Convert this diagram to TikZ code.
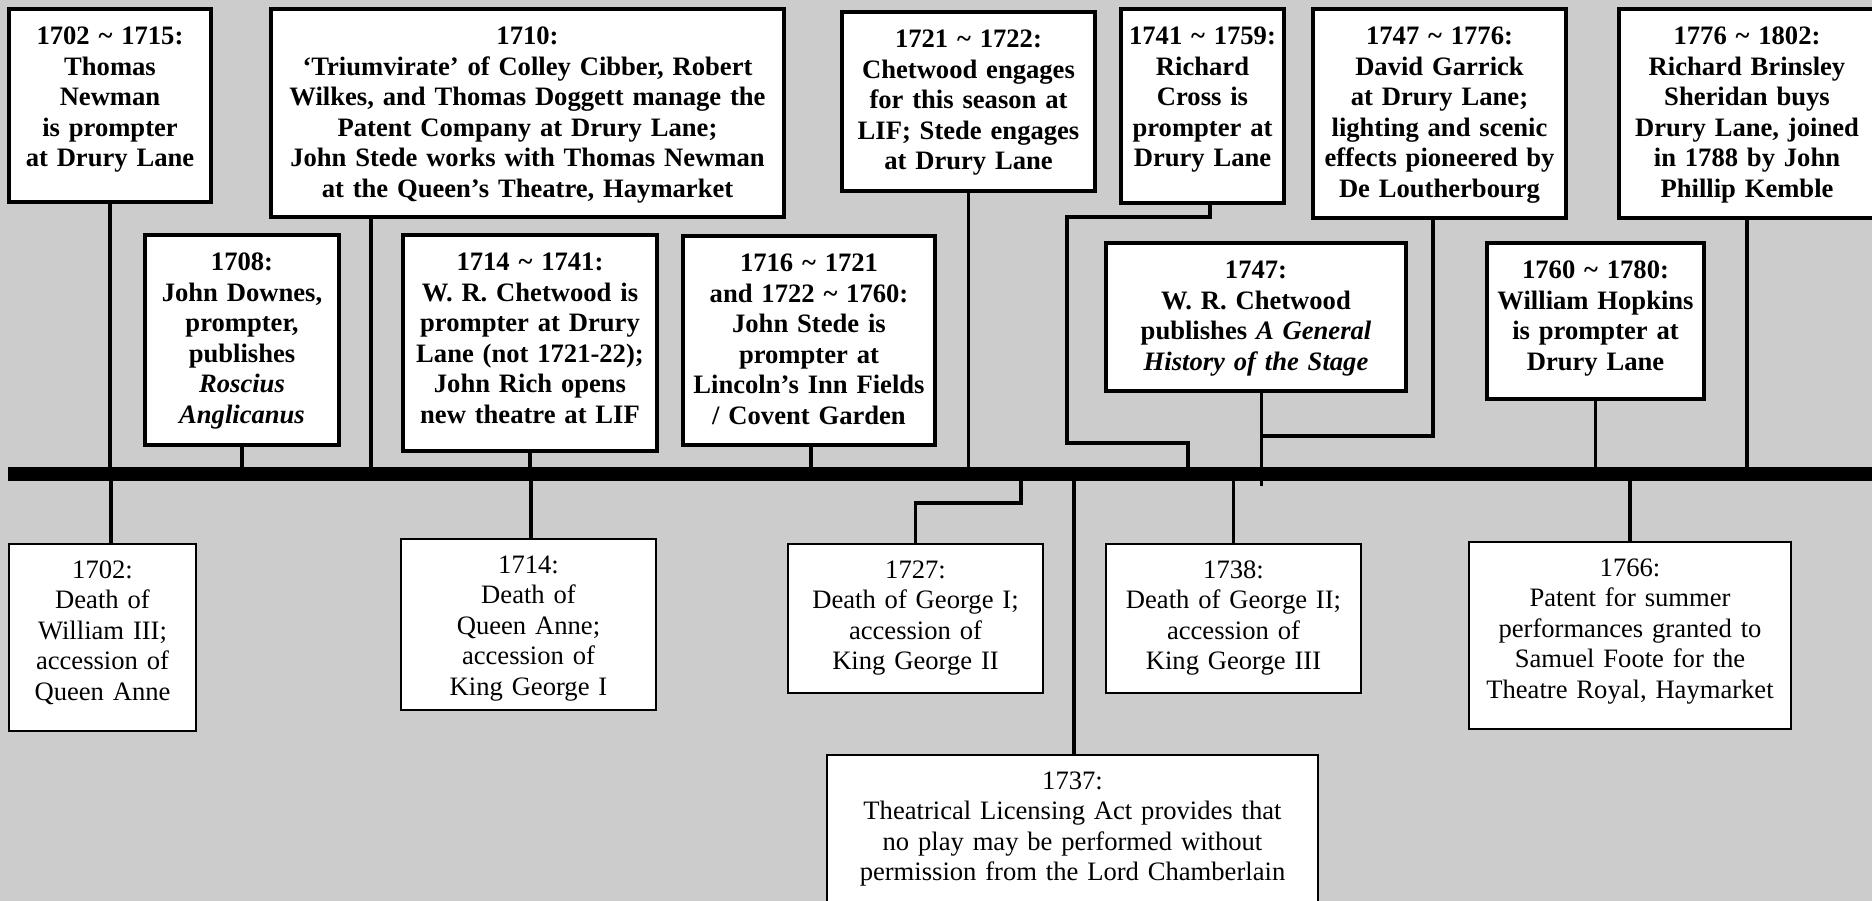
\documentclass[tikz,border=0pt]{standalone}
\usepackage{fontspec}
\setmainfont{Liberation Serif}

\definecolor{bggray}{gray}{0.8}
\tikzset{
  event/.style={draw, fill=white, anchor=north, align=center, inner xsep=8pt, inner ysep=14pt},
  topbox/.style={event, line width=4pt, text height=22pt,
    font=\bfseries\fontsize{26.6}{30.5}\selectfont},
  lowbox/.style={event, line width=2pt, text height=20pt,
    font=\fontsize{26.6}{30.5}\selectfont},
  stem/.style={line width=3.5pt}
}
\newcommand{\til}{\textasciitilde{}}

\begin{document}
\begin{tikzpicture}[x=1pt,y=-1pt]
\useasboundingbox (0,0) rectangle (1872,901);
\clip (0,0) rectangle (1872,901);
\fill[bggray] (0,0) rectangle (1872,901);

% above the line
\node[topbox, text width=186pt, text depth=143pt] (newman) at (110,7)
  {1702 \til{} 1715:\\Thomas\\Newman\\is prompter\\at Drury Lane};
\node[topbox, text width=497pt, text depth=158pt] (triumv) at (527.5,7)
  {1710:\\‘Triumvirate’ of Colley Cibber, Robert\\Wilkes, and Thomas Doggett manage the\\Patent Company at Drury Lane;\\John Stede works with Thomas Newman\\at the Queen’s Theatre, Haymarket};
\node[topbox, text width=178pt, text depth=160pt] (downes) at (242,233)
  {1708:\\John Downes,\\prompter,\\publishes\\\textit{Roscius}\\\textit{Anglicanus}};
\node[topbox, text width=238pt, text depth=166pt] (chetwood) at (530,233)
  {1714 \til{} 1741:\\W. R. Chetwood is\\prompter at Drury\\Lane (not 1721-22);\\John Rich opens\\new theatre at LIF};
\node[topbox, text width=236pt, text depth=159pt] (stede) at (809,234)
  {1716 \til{} 1721\\and 1722 \til{} 1760:\\John Stede is\\prompter at\\Lincoln’s Inn Fields\\/ Covent Garden};
\node[topbox, text width=237pt, text depth=129pt] (season) at (968.5,10)
  {1721 \til{} 1722:\\Chetwood engages\\for this season at\\LIF; Stede engages\\at Drury Lane};
\node[topbox, text width=147pt, text depth=144pt] (cross) at (1202.5,7)
  {1741 \til{} 1759:\\Richard\\Cross is\\prompter at\\Drury Lane};
\node[topbox, text width=237pt, text depth=159pt] (garrick) at (1439.5,7)
  {1747 \til{} 1776:\\David Garrick\\at Drury Lane;\\lighting and scenic\\effects pioneered by\\De Loutherbourg};
\node[topbox, text width=284pt, text depth=98pt] (history) at (1256,241)
  {1747:\\W. R. Chetwood\\publishes \textit{A General}\\\textit{History of the Stage}};
\node[topbox, text width=201pt, text depth=106pt] (hopkins) at (1595.5,241)
  {1760 \til{} 1780:\\William Hopkins\\is prompter at\\Drury Lane};
\node[topbox, text width=240pt, text depth=159pt] (sheridan) at (1747,7)
  {1776 \til{} 1802:\\Richard Brinsley\\Sheridan buys\\Drury Lane, joined\\in 1788 by John\\Phillip Kemble};

% below the line
\node[lowbox, text width=171pt, text depth=139pt] (william) at (102.5,543)
  {1702:\\Death of\\William III;\\accession of\\Queen Anne};
\node[lowbox, text width=239pt, text depth=123pt] (anne) at (528.5,538)
  {1714:\\Death of\\Queen Anne;\\accession of\\King George I};
\node[lowbox, text width=239pt, text depth=101pt] (georgeI) at (915.5,543)
  {1727:\\Death of George I;\\accession of\\King George II};
\node[lowbox, text width=475pt, text depth=130pt] (licensing) at (1072.5,754)
  {1737:\\Theatrical Licensing Act provides that\\no play may be performed without\\permission from the Lord Chamberlain};
\node[lowbox, text width=239pt, text depth=101pt] (georgeII) at (1233.5,543)
  {1738:\\Death of George II;\\accession of\\King George III};
\node[lowbox, text width=306pt, text depth=139pt] (foote) at (1630,541)
  {1766:\\Patent for summer\\performances granted to\\Samuel Foote for the\\Theatre Royal, Haymarket};

\coordinate (barL) at (8,474);
\coordinate (barR) at (1880,474);

% stems above
\draw[stem] (newman.south) -- (newman.south |- barL);
\draw[stem] ([xshift=-156.5pt]triumv.south) -- ([xshift=-156.5pt]triumv.south |- barL);
\draw[stem] (downes.south) -- (downes.south |- barL);
\draw[stem] (chetwood.south) -- (chetwood.south |- barL);
\draw[stem] ([xshift=2pt]stede.south) -- ([xshift=2pt]stede.south |- barL);
\draw[stem] (season.south) -- (season.south |- barL);
\draw[stem] ([xshift=7.5pt]cross.south) |- (1067,217) |- (1188,443) -- (1188,474);
\draw[stem] ([xshift=-6.5pt]garrick.south) |- (1262,436);
\draw[stem] ([xshift=5.5pt]history.south) -- ++(0,93);
\draw[stem] (hopkins.south) -- (hopkins.south |- barL);
\draw[stem] (sheridan.south) -- (sheridan.south |- barL);

% stems below
\draw[stem] ([xshift=8.5pt]william.north) -- ([xshift=8.5pt]william.north |- barL);
\draw[stem] ([xshift=2.5pt]anne.north) -- ([xshift=2.5pt]anne.north |- barL);
\draw[stem] (georgeI.north) |- (1021,503) -- (1021,474);
\draw[stem] ([xshift=1.5pt]licensing.north) -- ([xshift=1.5pt]licensing.north |- barL);
\draw[stem] (georgeII.north) -- (georgeII.north |- barL);
\draw[stem] (foote.north) -- (foote.north |- barL);

% time line
\draw[line width=14pt] (barL) -- (barR);
\end{tikzpicture}
\end{document}
